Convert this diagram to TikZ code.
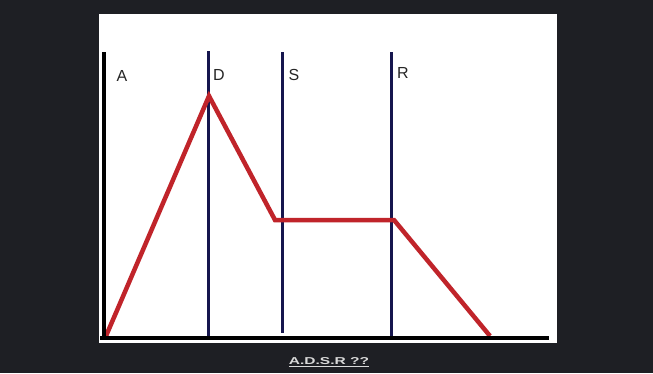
\documentclass[tikz,border=0pt]{standalone}
\usepackage{fontspec}
\setmainfont{Liberation Sans}
\definecolor{bgdark}{RGB}{30,31,36}
\definecolor{navy}{RGB}{22,22,78}
\definecolor{envred}{RGB}{192,36,42}
\begin{document}
\begin{tikzpicture}[x=1pt,y=-1pt,
  axisline/.style={line width=4.5pt,black},
  stageline/.style={line width=3pt,navy},
  envline/.style={line width=4.5pt,envred,line join=miter},
  stagelabel/.style={font=\fontsize{16}{16}\selectfont,text=black!85,inner sep=0pt,anchor=center},
  captionlabel/.style={font=\fontsize{10}{10}\selectfont\bfseries,text=white!85!black,inner sep=0pt,anchor=center,xscale=1.55}]
\useasboundingbox (0,0) rectangle (653,373);
\fill[bgdark] (0,0) rectangle (653,373);
\fill[white] (99,14) rectangle (557,343);
% coordinates
\coordinate (ytop) at (104,52);
\coordinate (orig) at (104,338);
\coordinate (xend) at (549,338);
\coordinate (dtop) at (208,51);
\coordinate (dbot) at (208,337);
\coordinate (stop) at (282,52);
\coordinate (sbot) at (282,333);
\coordinate (rtop) at (391,52);
\coordinate (rbot) at (391,337);
\coordinate (e0) at (106,336);
\coordinate (e1) at (209,96);
\coordinate (e2) at (275,220);
\coordinate (e3) at (394,220);
\coordinate (e4) at (490,336);
% stage lines
\draw[stageline] (dtop) -- (dbot);
\draw[stageline] (stop) -- (sbot);
\draw[stageline] (rtop) -- (rbot);
% envelope
\draw[envline] (e0) -- (e1) -- (e2) -- (e3) -- (e4);
% axes
\draw[axisline] (ytop) -- (orig);
\draw[axisline] (100,338) -- (xend);
% labels
\node[stagelabel] (la) at (122,76) {A};
\node[stagelabel] (ld) at (219,75) {D};
\node[stagelabel] (ls) at (294,75) {S};
\node[stagelabel] (lr) at (403,73) {R};
\node[captionlabel] (cap) at (329,362) {\underline{A.D.S.R ??}};
\end{tikzpicture}
\end{document}
